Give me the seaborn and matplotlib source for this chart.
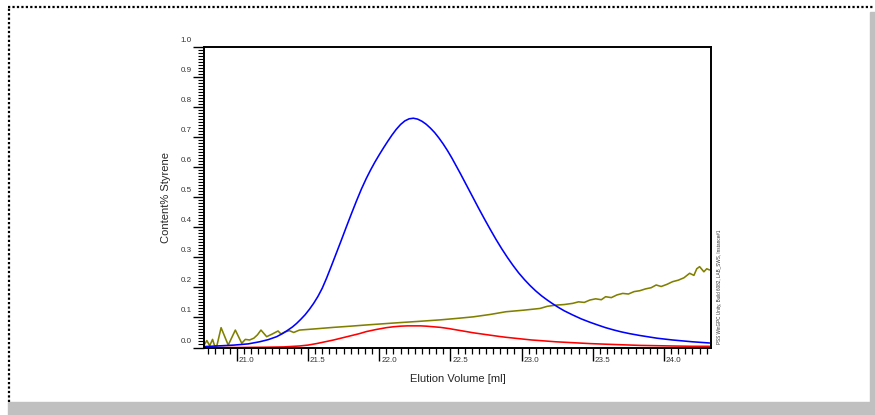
"""Styrene content vs. elution volume (GPC trace)."""

import matplotlib
matplotlib.use("Agg")
import matplotlib.pyplot as plt
import matplotlib.transforms as mtransforms
from matplotlib.lines import Line2D
from matplotlib.patches import Rectangle
from matplotlib.ticker import MultipleLocator
import pandas as pd
import seaborn as sns

# --- Data ---
blue_x = [20.77, 20.90, 20.98, 21.08, 21.16, 21.22, 21.28, 21.32, 21.35, 21.39,
          21.42, 21.45, 21.48, 21.51, 21.54, 21.57, 21.60, 21.63, 21.665, 21.70,
          21.735, 21.77, 21.805, 21.84, 21.875, 21.91, 21.94, 21.97, 22.00, 22.03,
          22.06, 22.09, 22.12, 22.15, 22.18, 22.21, 22.24, 22.27, 22.30, 22.33,
          22.36, 22.39, 22.42, 22.45, 22.48, 22.51, 22.54, 22.57, 22.60, 22.63,
          22.66, 22.70, 22.74, 22.78, 22.82, 22.86, 22.90, 22.94, 22.98, 23.02,
          23.06, 23.10, 23.14, 23.18, 23.22, 23.26, 23.30, 23.36, 23.42, 23.48,
          23.54, 23.59, 23.65, 23.70, 23.76, 23.83, 23.95, 24.06, 24.20, 24.32]
blue_y = [0.003, 0.006, 0.008, 0.012, 0.019, 0.026, 0.036, 0.046, 0.055, 0.068,
          0.080, 0.094, 0.109, 0.127, 0.147, 0.170, 0.197, 0.230, 0.272, 0.315,
          0.358, 0.402, 0.445, 0.487, 0.527, 0.563, 0.591, 0.617, 0.641, 0.664,
          0.686, 0.707, 0.726, 0.742, 0.754, 0.761, 0.763, 0.760, 0.753, 0.743,
          0.730, 0.715, 0.697, 0.677, 0.655, 0.631, 0.605, 0.579, 0.552, 0.525,
          0.498, 0.462, 0.427, 0.393, 0.360, 0.329, 0.300, 0.273, 0.248, 0.226,
          0.206, 0.188, 0.172, 0.158, 0.145, 0.133, 0.122, 0.108, 0.095, 0.084,
          0.074, 0.066, 0.058, 0.052, 0.046, 0.040, 0.031, 0.025, 0.019, 0.015]

red_x = [20.77, 21.00, 21.21, 21.33, 21.44, 21.50, 21.56, 21.62, 21.68, 21.74,
         21.80, 21.86, 21.91, 21.98, 22.05, 22.10, 22.15, 22.20, 22.24, 22.29,
         22.33, 22.38, 22.43, 22.49, 22.55, 22.60, 22.66, 22.72, 22.78, 22.84,
         22.89, 22.95, 23.01, 23.07, 23.13, 23.24, 23.36, 23.48, 23.59, 23.71,
         23.83, 23.95, 24.06, 24.20, 24.32]
red_y = [0.000, 0.000, 0.001, 0.002, 0.005, 0.008, 0.013, 0.019, 0.025, 0.032,
         0.039, 0.046, 0.053, 0.060, 0.066, 0.069, 0.071, 0.072, 0.072, 0.072,
         0.071, 0.069, 0.067, 0.063, 0.058, 0.054, 0.049, 0.045, 0.041, 0.037,
         0.034, 0.031, 0.028, 0.025, 0.023, 0.019, 0.016, 0.013, 0.011, 0.009,
         0.007, 0.006, 0.005, 0.004, 0.004]

olive_x = [20.77, 20.79, 20.81, 20.83, 20.845, 20.86, 20.89, 20.94, 20.99, 21.035,
           21.06, 21.09, 21.12, 21.145, 21.17, 21.21, 21.25, 21.29, 21.31, 21.34,
           21.37, 21.40, 21.44, 21.55, 21.68, 21.80, 21.91, 22.03, 22.15, 22.28,
           22.43, 22.55, 22.66, 22.78, 22.89, 23.01, 23.13, 23.18, 23.24, 23.30,
           23.36, 23.40, 23.44, 23.48, 23.52, 23.56, 23.59, 23.63, 23.67, 23.71,
           23.75, 23.79, 23.83, 23.87, 23.91, 23.945, 23.98, 24.02, 24.06, 24.10,
           24.14, 24.18, 24.21, 24.23, 24.25, 24.28, 24.30, 24.32]
olive_y = [0.008, 0.023, 0.006, 0.027, 0.005, 0.005, 0.066, 0.008, 0.058, 0.014,
           0.027, 0.025, 0.031, 0.042, 0.058, 0.036, 0.045, 0.055, 0.045, 0.052,
           0.056, 0.050, 0.058, 0.062, 0.067, 0.071, 0.075, 0.079, 0.083, 0.087,
           0.092, 0.097, 0.102, 0.110, 0.119, 0.124, 0.130, 0.137, 0.141, 0.143,
           0.147, 0.152, 0.150, 0.158, 0.162, 0.159, 0.169, 0.166, 0.175, 0.180,
           0.178, 0.186, 0.189, 0.195, 0.199, 0.208, 0.203, 0.210, 0.219, 0.224,
           0.232, 0.247, 0.240, 0.262, 0.269, 0.252, 0.262, 0.258]

X_TICKS = [21.0, 21.5, 22.0, 22.5, 23.0, 23.5, 24.0]
Y_TICKS = [0.0, 0.1, 0.2, 0.3, 0.4, 0.5, 0.6, 0.7, 0.8, 0.9, 1.0]
STAMP = "PSS WinGPC Unity, Build 6082, LAB_SWS, Instance#1"

sns.set_style("white")
plt.rcParams["font.family"] = ["Liberation Sans", "DejaVu Sans"]

fig = plt.figure(figsize=(8.75, 4.15), dpi=100)
fig.patch.set_facecolor("white")

# page frame: grey shadow, dotted border top/left
fig.add_artist(Rectangle((8 / 875, 0), 1 - 8 / 875, 13 / 415,
                         transform=fig.transFigure, color="#c0c0c0", zorder=0))
fig.add_artist(Rectangle((870 / 875, 0), 5 / 875, 1 - 12 / 415,
                         transform=fig.transFigure, color="#c0c0c0", zorder=0))
fig.add_artist(Line2D([8 / 875, 873 / 875], [1 - 7 / 415, 1 - 7 / 415],
                      transform=fig.transFigure, color="black", lw=1.6,
                      linestyle=(0, (1, 1))))
fig.add_artist(Line2D([8.5 / 875, 8.5 / 875], [13 / 415, 1 - 7 / 415],
                      transform=fig.transFigure, color="black", lw=1.6,
                      linestyle=(0, (1, 1))))

ax = fig.add_axes([204 / 875, 1 - 347.5 / 415, 507 / 875, 300.5 / 415])

for xs, ys, col in [(olive_x, olive_y, "#808000"),
                    (red_x, red_y, "#ff0000"),
                    (blue_x, blue_y, "#0000ff")]:
    df = pd.DataFrame({"x": xs, "y": ys})
    sns.lineplot(data=df, x="x", y="y", ax=ax, color=col, lw=1.15,
                 estimator=None, sort=False)

ax.set_xlim(20.77, 24.33)
ax.set_ylim(0, 1.0)
for s in ax.spines.values():
    s.set_visible(True)
    s.set_color("black")
    s.set_linewidth(1.4)

ax.set_xticks(X_TICKS)
ax.set_xticklabels([f"{v:.1f}" for v in X_TICKS])
ax.set_yticks(Y_TICKS)
ax.set_yticklabels([f"{v:.1f}" for v in Y_TICKS])
ax.xaxis.set_minor_locator(MultipleLocator(0.05))
ax.yaxis.set_minor_locator(MultipleLocator(0.01))
ax.tick_params(axis="both", which="both", direction="out", color="black",
               bottom=True, left=True, top=False, right=False,
               labelsize=5.8, labelcolor="#333333")
ax.tick_params(axis="x", which="major", length=9, width=1.0, pad=-2)
ax.tick_params(axis="x", which="minor", length=4, width=0.9)
ax.tick_params(axis="y", which="major", length=8, width=1.0, pad=0.8)
ax.tick_params(axis="y", which="minor", length=4, width=0.8)

# labels sit beside the tick marks, not under them
for lab in ax.get_xticklabels():
    lab.set_horizontalalignment("left")
    lab.set_transform(lab.get_transform() +
                      mtransforms.ScaledTranslation(0.02, 0, fig.dpi_scale_trans))
for lab in ax.get_yticklabels():
    lab.set_verticalalignment("bottom")
    lab.set_transform(lab.get_transform() +
                      mtransforms.ScaledTranslation(0, 0.03, fig.dpi_scale_trans))

ax.set_xlabel("Elution Volume [ml]", fontsize=8, labelpad=7)
ax.set_ylabel("Content% Styrene", fontsize=8, labelpad=7)

fig.text(719 / 875, 1 - 344 / 415, STAMP, rotation=90, fontsize=3.3,
         ha="center", va="bottom", color="#333333")

fig.savefig("out.png", dpi=100)
